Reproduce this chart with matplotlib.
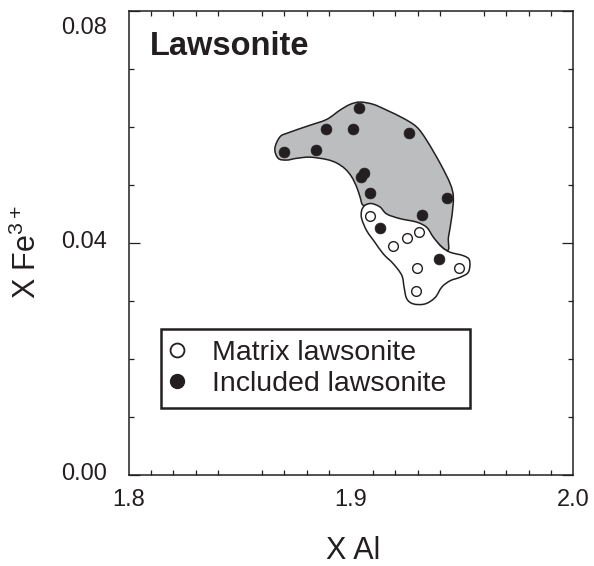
import numpy as np
import matplotlib
matplotlib.use('Agg')
import matplotlib.pyplot as plt
import matplotlib.transforms as mtransforms
from matplotlib.path import Path
from matplotlib.patches import PathPatch
from matplotlib.lines import Line2D

plt.rcParams['font.family'] = ['Liberation Sans', 'DejaVu Sans']
plt.rcParams['mathtext.fontset'] = 'custom'
plt.rcParams['mathtext.rm'] = 'Liberation Sans'

ink = '#231f20'

# Lawsonite analyses (X Al, X Fe3+)
matrix_al = [1.9086, 1.9308, 1.9251, 1.9191, 1.9296, 1.9487, 1.9292]
matrix_fe = [0.0446, 0.0419, 0.0409, 0.0395, 0.0357, 0.0357, 0.0317]

included_al = [1.9036, 1.8886, 1.9010, 1.9263, 1.8698, 1.8841, 1.9060,
               1.9045, 1.9086, 1.9434, 1.9322, 1.9129, 1.9397]
included_fe = [0.0632, 0.0597, 0.0597, 0.0590, 0.0557, 0.0560, 0.0520,
               0.0513, 0.0486, 0.0478, 0.0448, 0.0426, 0.0372]

# compositional fields (hand traced outlines)
incl_field_al = [1.8657, 1.8680, 1.8717, 1.8815, 1.8890, 1.8950, 1.8996, 1.9041,
                 1.9101, 1.9161, 1.9236, 1.9296, 1.9341, 1.9402, 1.9447, 1.9461,
                 1.9454, 1.9439, 1.9432, 1.9341, 1.9221, 1.9101, 1.9055, 1.9041,
                 1.9026, 1.9003, 1.8973, 1.8935, 1.8890, 1.8815, 1.8755, 1.8710,
                 1.8672]
incl_field_fe = [0.0563, 0.0583, 0.0590, 0.0603, 0.0613, 0.0629, 0.0639, 0.0643,
                 0.0639, 0.0629, 0.0615, 0.0600, 0.0577, 0.0537, 0.0502, 0.0479,
                 0.0445, 0.0410, 0.0387, 0.0416, 0.0433, 0.0465, 0.0465, 0.0479,
                 0.0496, 0.0514, 0.0528, 0.0538, 0.0544, 0.0548, 0.0546, 0.0543,
                 0.0546]

mtx_field_al = [1.9063, 1.9093, 1.9131, 1.9161, 1.9221, 1.9296, 1.9341, 1.9371,
                1.9409, 1.9447, 1.9507, 1.9534, 1.9529, 1.9492, 1.9447, 1.9409,
                1.9379, 1.9334, 1.9281, 1.9251, 1.9239, 1.9229, 1.9191, 1.9146,
                1.9108, 1.9071, 1.9048, 1.9048]
mtx_field_fe = [0.0465, 0.0468, 0.0462, 0.0450, 0.0442, 0.0436, 0.0427, 0.0410,
                0.0393, 0.0384, 0.0378, 0.0370, 0.0350, 0.0341, 0.0335, 0.0324,
                0.0306, 0.0295, 0.0295, 0.0304, 0.0324, 0.0344, 0.0364, 0.0381,
                0.0401, 0.0421, 0.0442, 0.0456]


def smooth_outline(xs, ys):
    # closed catmull-rom curve through the traced vertices
    pts = np.column_stack([xs, ys])
    n = len(pts)
    verts = [pts[0]]
    codes = [Path.MOVETO]
    for i in range(n):
        p0, p1, p2, p3 = pts[i - 1], pts[i], pts[(i + 1) % n], pts[(i + 2) % n]
        verts += [p1 + (p2 - p0) / 6, p2 - (p3 - p1) / 6, p2]
        codes += [Path.CURVE4] * 3
    return Path(verts, codes)


fig = plt.figure(figsize=(5.94, 5.66), dpi=100)
ax = fig.add_axes([129 / 594, 91 / 566, 444 / 594, 464 / 566])

ax.add_patch(PathPatch(smooth_outline(incl_field_al, incl_field_fe),
                       facecolor='#bcbdbf', edgecolor=ink, lw=1.1, zorder=1))
ax.add_patch(PathPatch(smooth_outline(mtx_field_al, mtx_field_fe),
                       facecolor='white', edgecolor=ink, lw=1.1, zorder=2))

ax.plot(included_al, included_fe, 'o', ms=7.8, mfc=ink, mec=ink, mew=0.5, zorder=3)
ax.plot(matrix_al, matrix_fe, 'o', ms=7, mfc='white', mec=ink, mew=1.0, zorder=3)

ax.set_xlim(1.8, 2.0)
ax.set_ylim(0.0, 0.08)

ax.set_xticks([1.8, 1.9, 2.0])
ax.set_xticklabels(['1.8', '1.9', '2.0'])
ax.set_xticks([1.81, 1.82, 1.83, 1.84, 1.86, 1.87, 1.88, 1.89,
               1.91, 1.92, 1.93, 1.94, 1.96, 1.97, 1.98, 1.99], minor=True)
ax.set_yticks([0.0, 0.04, 0.08])
ax.set_yticklabels(['0.00', '0.04', '0.08'])
ax.set_yticks([0.01, 0.02, 0.03, 0.05, 0.06, 0.07], minor=True)

ax.tick_params(axis='x', which='major', direction='in', length=0, pad=10,
               labelsize=17, colors=ink, top=True)
ax.tick_params(axis='x', which='minor', direction='in', length=3.5, width=0.9,
               colors=ink, top=True)
ax.tick_params(axis='y', which='major', direction='in', length=8, width=0.9,
               pad=15.5, labelsize=17, colors=ink, right=True)
ax.tick_params(axis='y', which='minor', direction='in', length=3.5, width=0.9,
               colors=ink, right=True)
for sp in ax.spines.values():
    sp.set_linewidth(1.1)
    sp.set_color(ink)

# y tick label nudges as in the original figure
for lab, dy in zip(ax.get_yticklabels(), [3, 3, -15]):
    lab.set_transform(lab.get_transform() +
                      mtransforms.ScaledTranslation(0, dy / 100, fig.dpi_scale_trans))

ax.text(0.046, 0.905, 'Lawsonite', transform=ax.transAxes, fontsize=23.5,
        fontweight='bold', color=ink, va='baseline', ha='left')

fig.text(0.594, 0.012, 'X Al', fontsize=22, color=ink, ha='center', va='baseline')
fig.text(0.046, 0.555, r'X Fe$^{\mathregular{3+}}$', fontsize=22, color=ink,
         rotation=90, ha='center', va='center')

handles = [Line2D([], [], ls='none', marker='o', ms=10, mfc='white', mec=ink, mew=1.3),
           Line2D([], [], ls='none', marker='o', ms=10, mfc=ink, mec=ink)]
leg = ax.legend(handles, ['Matrix lawsonite', 'Included lawsonite'],
                loc='upper left', bbox_to_anchor=(0.072, 0.144, 0.696, 0.171),
                mode='expand', borderaxespad=0, fontsize=20.5, frameon=True,
                framealpha=1, fancybox=False, handlelength=0.4, handletextpad=1.0,
                borderpad=0.38, labelspacing=0.2)
leg.get_frame().set_edgecolor(ink)
leg.get_frame().set_linewidth(1.8)
for t in leg.get_texts():
    t.set_color(ink)

fig.savefig('out.png', dpi=100)
